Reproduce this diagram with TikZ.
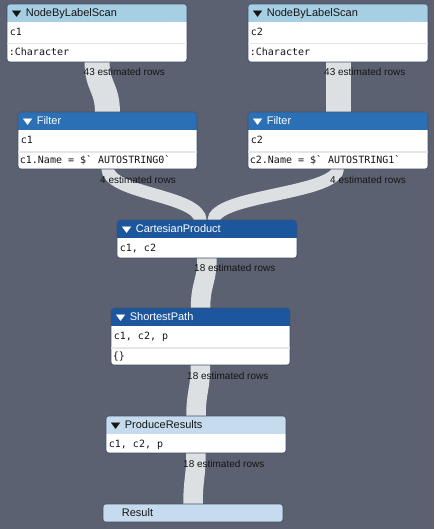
\documentclass[tikz,border=0pt]{standalone}
\usepackage{fontspec}
\setmainfont{Liberation Sans}
\setmonofont{DejaVu Sans Mono}
\newfontfamily\symfont{DejaVu Sans}
\usetikzlibrary{calc,fit}
\definecolor{bgcol}{HTML}{5B6170}
\definecolor{bandcol}{HTML}{DCE0E3}
\definecolor{hdrlight}{HTML}{A6CFE3}
\definecolor{hdrmid}{HTML}{2B70B5}
\definecolor{hdrdark}{HTML}{1C579D}
\definecolor{hdrpale}{HTML}{C6DCEE}
\definecolor{framecol}{HTML}{42506A}
\definecolor{sepcol}{HTML}{E4E6E8}
\definecolor{darktext}{HTML}{151515}
\pgfdeclarelayer{back}
\pgfdeclarelayer{flows}
\pgfsetlayers{back,flows,main}
\newcommand\tri{\raisebox{0.3pt}{\scalebox{1.25}[0.85]{\symfont\fontsize{10}{12}\selectfont ▼}}\hspace{4.3pt}}
\newcommand\opbox[7]{%
  \begin{scope}
    \clip[rounded corners=3pt] (#2,#3) rectangle (#4,#5);
    \fill[white] (#2,#3) rectangle (#4,#5);
    \fill[#6] (#2,#3) rectangle (#4,#3+#7);
  \end{scope}
  \node[boxframe, fit={(#2,#3) (#4,#5)}] (#1) {};
}
\newcommand\flow[3]{%
  \draw[flowline, line width=#1] ([yshift=1.5pt]#2) .. controls ($(#2)+(0,25)$) and ($(#3)+(0,-25)$) .. ([yshift=-1.5pt]#3);}
\newcommand\sepat[2]{\draw[sepline] ($(#1.north west)+(0.4,#2)$) -- ($(#1.north east)+(-0.4,#2)$);}
\tikzset{
 boxframe/.style={draw=framecol, line width=0.6pt, rounded corners=3pt, inner sep=0pt},
 flowline/.style={draw=bandcol},
 hdr/.style={anchor=base west, inner sep=0pt, font=\fontsize{11}{13}\selectfont},
 rowtxt/.style={anchor=base west, inner sep=0pt, font=\ttfamily\fontsize{10}{12}\selectfont, text=darktext},
 lbl/.style={anchor=base west, inner sep=0pt, font=\fontsize{10}{12}\selectfont, text=darktext},
 sepline/.style={draw=sepcol, line width=1.6pt},
}
\begin{document}
\begin{tikzpicture}[x=1pt,y=-1pt]
\begin{pgfonlayer}{back}
\fill[bgcol] (0,0) rectangle (434,529);
\end{pgfonlayer}
\useasboundingbox (0,0) rectangle (434,529);

% NodeByLabelScan left
\opbox{n1}{7}{4}{187}{62}{hdrlight}{18}
\sepat{n1}{40}
\node[hdr, text=darktext] (n1h) at ($(n1.north west)+(5,13)$) {\tri NodeByLabelScan};
\node[rowtxt] (n1a) at ($(n1.north west)+(3,32)$) {c1};
\node[rowtxt] (n1b) at ($(n1.north west)+(2,52)$) {:Character};

% NodeByLabelScan right
\opbox{n2}{248}{4}{428}{62}{hdrlight}{18}
\sepat{n2}{40}
\node[hdr, text=darktext] (n2h) at ($(n2.north west)+(5,13)$) {\tri NodeByLabelScan};
\node[rowtxt] (n2a) at ($(n2.north west)+(3,32)$) {c2};
\node[rowtxt] (n2b) at ($(n2.north west)+(2,52)$) {:Character};

% Filter left
\opbox{f1}{18}{112}{197}{169}{hdrmid}{18}
\sepat{f1}{40.5}
\node[hdr, text=white] (f1h) at ($(f1.north west)+(5,13)$) {\tri Filter};
\node[rowtxt] (f1a) at ($(f1.north west)+(3,32)$) {c1};
\node[rowtxt] (f1b) at ($(f1.north west)+(2,52)$) {c1.Name = \$\textasciigrave{} AUTOSTRING0\textasciigrave};

% Filter right
\opbox{f2}{248}{112}{428}{169}{hdrmid}{18}
\sepat{f2}{40.5}
\node[hdr, text=white] (f2h) at ($(f2.north west)+(5,13)$) {\tri Filter};
\node[rowtxt] (f2a) at ($(f2.north west)+(3,32)$) {c2};
\node[rowtxt] (f2b) at ($(f2.north west)+(2,52)$) {c2.Name = \$\textasciigrave{} AUTOSTRING1\textasciigrave};

% CartesianProduct
\opbox{cp}{117}{220}{297}{258}{hdrdark}{18}
\node[hdr, text=white] (cph) at ($(cp.north west)+(5,13)$) {\tri CartesianProduct};
\node[rowtxt] (cpa) at ($(cp.north west)+(3,31.6)$) {c1, c2};

% ShortestPath
\opbox{sp}{111}{308}{290}{365}{hdrdark}{18}
\sepat{sp}{40}
\node[hdr, text=white] (sph) at ($(sp.north west)+(5,13)$) {\tri ShortestPath};
\node[rowtxt] (spa) at ($(sp.north west)+(3,32)$) {c1, c2, p};
\node[rowtxt] (spb) at ($(sp.north west)+(2,52)$) {\{\}};

% ProduceResults
\opbox{pr}{106}{416}{286}{453}{hdrpale}{18}
\node[hdr, text=darktext] (prh) at ($(pr.north west)+(5,13)$) {\tri ProduceResults};
\node[rowtxt] (pra) at ($(pr.north west)+(3,31.3)$) {c1, c2, p};

% Result
\opbox{res}{103}{504}{283}{522}{hdrpale}{18}
\node[hdr, text=darktext] (resh) at ($(res.north west)+(19,13)$) {Result};

\coordinate (cpL) at ([xshift=-6.5pt]cp.north);
\coordinate (cpR) at ([xshift=6.5pt]cp.north);

\begin{pgfonlayer}{flows}
\flow{25pt}{n1.south}{f1.north}
\flow{25pt}{n2.south}{f2.north}
\flow{12.5pt}{f1.south}{cpL}
\flow{12.5pt}{f2.south}{cpR}
\flow{19.5pt}{cp.south}{sp.north}
\flow{19.5pt}{sp.south}{pr.north}
\flow{19.5pt}{pr.south}{res.north}
\end{pgfonlayer}

\node[lbl] (l1) at ($(n1.south)+(-13.5,13.5)$) {43 estimated rows};
\node[lbl] (l2) at ($(n2.south)+(-14,13.5)$) {43 estimated rows};
\node[lbl] (l3) at ($(f1.south)+(-7.5,14.5)$) {4 estimated rows};
\node[lbl] (l4) at ($(f2.south)+(-8,14.5)$) {4 estimated rows};
\node[lbl] (l5) at ($(cp.south)+(-13,13.5)$) {18 estimated rows};
\node[lbl] (l6) at ($(sp.south)+(-13.5,14.5)$) {18 estimated rows};
\node[lbl] (l7) at ($(pr.south)+(-13,14.5)$) {18 estimated rows};
\end{tikzpicture}
\end{document}
